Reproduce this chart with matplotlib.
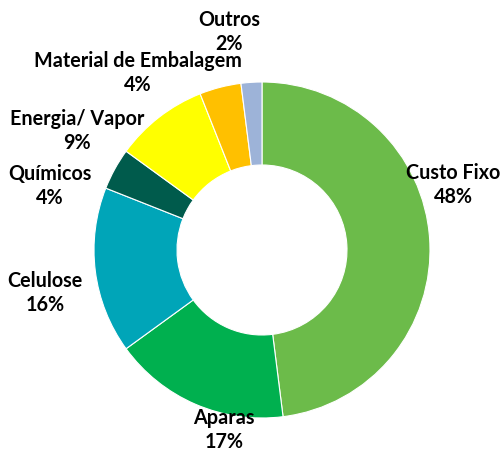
import matplotlib
matplotlib.use("Agg")
import matplotlib.pyplot as plt

categories = ["Custo Fixo", "Aparas", "Celulose", "Químicos", "Energia/ Vapor",
              "Material de Embalagem", "Outros"]
values = [48, 17, 16, 4, 9, 4, 2]
colors = ["#6CBB4A", "#00B04F", "#00A5B8", "#005B4C", "#FFFF00", "#FFC000", "#9DB3D8"]
# label centre positions in pixels (x, y from top)
label_pos = [(453, 185), (224, 430), (45, 293), (50, 186), (77, 131), (138, 73), (229, 32)]

W, H = 501, 453
fig = plt.figure(figsize=(W / 100, H / 100), dpi=100)
ax = fig.add_axes([0, 0, 1, 1])

cx, cy, r_out, r_in = 262, H - 250, 168, 85
ax.pie(values, colors=colors, startangle=90, counterclock=False,
       center=(cx, cy), radius=r_out, frame=True,
       wedgeprops=dict(width=r_out - r_in, edgecolor="white", linewidth=0.8))
ax.set_xlim(0, W)
ax.set_ylim(0, H)
ax.set_aspect("auto")
ax.axis("off")

for cat, v, (px, py) in zip(categories, values, label_pos):
    ax.text(px, H - py, f"{cat}\n{v}%", ha="center", va="center",
            fontsize=14.2, fontweight="bold", family="Lato", color="black",
            linespacing=1.25)

fig.savefig("out.png", dpi=100)
